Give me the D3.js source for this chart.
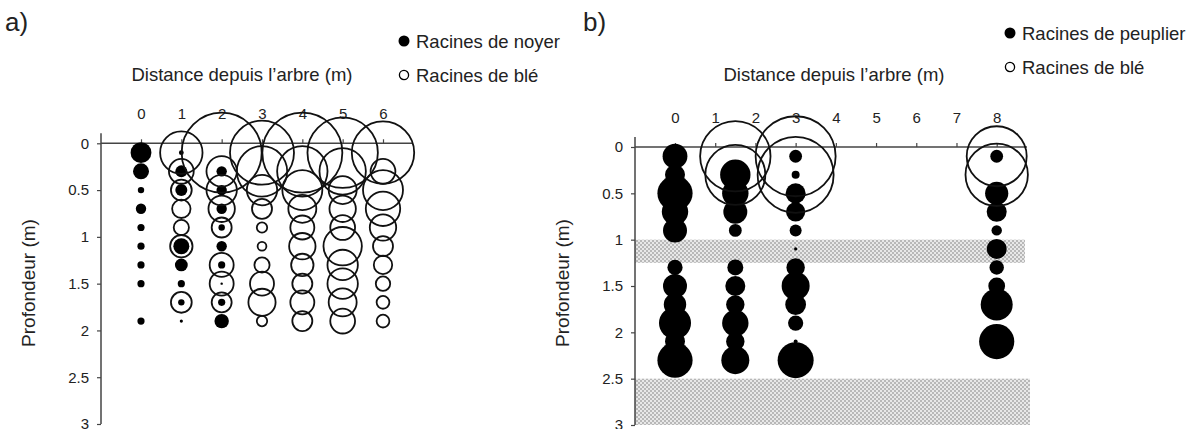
<!DOCTYPE html>
<html>
<head>
<meta charset="utf-8">
<script src="https://cdn.jsdelivr.net/npm/d3@7"></script>
<style>
  body { margin: 0; background: #fff; }
  svg { display: block; font-family: "Liberation Sans", Arial, sans-serif; }
</style>
</head>
<body>
<svg id="chart" width="1199" height="429"></svg>
<script>
// depths (m) of the sampling points
var depthsA = [0.1, 0.3, 0.5, 0.7, 0.9, 1.1, 1.3, 1.5, 1.7, 1.9]
var depthsB = [0.1, 0.3, 0.5, 0.7, 0.9, 1.1, 1.3, 1.5, 1.7, 1.9, 2.1, 2.3]

// distances from the tree (m)
var columnsA = [0, 1, 2, 3, 4, 5, 6]
var columnsB = [0, 1.5, 3, 8]

// relative root density (0-100), one row per column
var noyerA = [
  [26, 20, 8, 13, 9, 9, 9, 9, 0, 9],
  [6, 15, 15, 0, 0, 20, 16, 9, 8, 4],
  [0, 13, 13, 13, 8, 13, 9, 3, 9, 18],
  [0, 0, 0, 0, 0, 0, 0, 0, 0, 0],
  [0, 0, 0, 0, 0, 0, 0, 0, 0, 0],
  [0, 0, 0, 0, 0, 0, 0, 0, 0, 0],
  [0, 0, 0, 0, 0, 0, 0, 0, 0, 0]
]
var bleA = [
  [0, 0, 0, 0, 0, 0, 0, 0, 0, 0],
  [53, 31, 26, 23, 19, 28, 0, 0, 26, 0],
  [100, 38, 38, 33, 25, 0, 30, 30, 25, 0],
  [80, 63, 38, 25, 13, 11, 19, 30, 34, 13],
  [100, 63, 50, 35, 30, 33, 28, 25, 30, 25],
  [88, 58, 35, 33, 31, 48, 38, 38, 35, 31],
  [78, 31, 50, 43, 33, 25, 23, 18, 16, 16]
]
var peuplierB = [
  [31, 25, 44, 33, 30, 0, 19, 30, 28, 40, 25, 44],
  [0, 38, 33, 30, 16, 0, 20, 25, 23, 33, 23, 35],
  [16, 10, 25, 24, 15, 4, 23, 35, 26, 19, 5, 45],
  [16, 0, 29, 25, 13, 25, 18, 21, 40, 0, 44, 0]
]
var bleB = [
  [0, 0, 0, 0, 0, 0, 0, 0, 0, 0, 0, 0],
  [88, 75, 0, 0, 0, 0, 0, 0, 0, 0, 0, 0],
  [100, 95, 0, 0, 0, 0, 0, 0, 0, 0, 0, 0],
  [75, 78, 0, 0, 0, 0, 0, 0, 0, 0, 0, 0]
]

// shaded soil layers in b) (depth from, depth to)
var bandsB = [[1.0, 1.25], [2.5, 3.0]]

var ticksY = [0, 0.5, 1, 1.5, 2, 2.5, 3]
var ticksXA = [0, 1, 2, 3, 4, 5, 6]
var ticksXB = [0, 1, 2, 3, 4, 5, 6, 7, 8]

var svg = d3.select('#chart')
var size = d3.scaleLinear().domain([0, 100]).range([0, 40])
var axisColor = '#444'
var textColor = '#222'
var font = '"Liberation Sans", Arial, sans-serif'

// dotted pattern for the shaded layers
var defs = svg.append('defs')
var pat = defs.append('pattern')
  .attr('id', 'dots')
  .attr('width', 4).attr('height', 4)
  .attr('patternUnits', 'userSpaceOnUse')
pat.append('rect').attr('width', 4).attr('height', 4).attr('fill', '#e8e8e8')
pat.append('circle').attr('cx', 1).attr('cy', 1).attr('r', 1).attr('fill', '#a8a8a8')
pat.append('circle').attr('cx', 3).attr('cy', 3).attr('r', 1).attr('fill', '#a8a8a8')

function drawPanel(opt) {
  var g = svg.append('g')
  var x = d3.scaleLinear().domain(opt.xDomain).range(opt.xRange)
  var y = d3.scaleLinear().domain([0, 3]).range(opt.yRange)

  if (opt.bands) {
    g.selectAll('rect.band')
      .data(opt.bands)
      .enter().append('rect')
      .attr('class', 'band')
      .attr('x', opt.axisX)
      .attr('y', function (d) { return y(d[0]) })
      .attr('width', function (d, i) { return opt.bandRight[i] - opt.axisX })
      .attr('height', function (d) { return y(d[1]) - y(d[0]) })
      .attr('fill', 'url(#dots)')
  }

  // x axis (top)
  var xa = g.append('g')
    .attr('transform', 'translate(0,' + y(0) + ')')
    .call(d3.axisTop(x).tickValues(opt.xTicks).tickSize(4).tickPadding(20).tickFormat(d3.format('d')))
  xa.select('.domain').remove()
  xa.selectAll('line').attr('stroke', axisColor).attr('stroke-width', 1.2)
  xa.selectAll('text').attr('font-size', 15).attr('fill', textColor).attr('font-family', font)
  g.append('line')
    .attr('x1', opt.axisX).attr('x2', opt.xLineEnd)
    .attr('y1', y(0)).attr('y2', y(0))
    .attr('stroke', axisColor).attr('stroke-width', 1.5)

  // y axis (left)
  var ya = g.append('g')
    .attr('transform', 'translate(' + opt.axisX + ',0)')
    .call(d3.axisLeft(y).tickValues(ticksY).tickSize(4).tickPadding(8).tickFormat(function (d) { return d }))
  ya.select('.domain').remove()
  ya.selectAll('line').attr('stroke', axisColor).attr('stroke-width', 1.2)
  ya.selectAll('text').attr('font-size', 15).attr('fill', textColor).attr('font-family', font)
  g.append('line')
    .attr('x1', opt.axisX).attr('x2', opt.axisX)
    .attr('y1', y(0) - 10).attr('y2', y(3))
    .attr('stroke', axisColor).attr('stroke-width', 1.5)

  // tree roots: filled circles
  opt.columns.forEach(function (c, ci) {
    g.selectAll(null)
      .data(opt.depths.map(function (d, i) { return { d: d, v: opt.tree[ci][i] } }).filter(function (p) { return p.v > 0 }))
      .enter().append('circle')
      .attr('cx', x(c))
      .attr('cy', function (p) { return y(p.d) })
      .attr('r', function (p) { return size(p.v) })
      .attr('fill', '#000')
  })
  // wheat roots: open circles
  opt.columns.forEach(function (c, ci) {
    g.selectAll(null)
      .data(opt.depths.map(function (d, i) { return { d: d, v: opt.wheat[ci][i] } }).filter(function (p) { return p.v > 0 }))
      .enter().append('circle')
      .attr('cx', x(c))
      .attr('cy', function (p) { return y(p.d) })
      .attr('r', function (p) { return size(p.v) })
      .attr('fill', 'none')
      .attr('stroke', '#111')
      .attr('stroke-width', 1.8)
  })

  // titles
  g.append('text')
    .attr('x', opt.letterX).attr('y', 31)
    .attr('font-size', 26).attr('fill', textColor)
    .text(opt.letter)
  g.append('text')
    .attr('x', opt.titleX).attr('y', 81)
    .attr('text-anchor', 'middle')
    .attr('font-size', 18.5).attr('fill', textColor)
    .text('Distance depuis l\u2019arbre (m)')
  g.append('text')
    .attr('transform', 'translate(' + opt.yTitleX + ',283) rotate(-90)')
    .attr('text-anchor', 'middle')
    .attr('font-size', 19).attr('fill', textColor)
    .text('Profondeur (m)')

  // legend
  var lg = g.append('g').attr('transform', 'translate(' + opt.legendX + ',' + opt.legendY + ')')
  lg.append('circle').attr('cx', 0).attr('cy', 0).attr('r', 5.5).attr('fill', '#000')
  lg.append('text').attr('x', 12).attr('y', 6.5).attr('font-size', 18.5).attr('fill', textColor).text(opt.treeName)
  lg.append('circle').attr('cx', 0).attr('cy', opt.legendGap).attr('r', 4.6)
    .attr('fill', 'none').attr('stroke', '#000').attr('stroke-width', 1.3)
  lg.append('text').attr('x', 12).attr('y', opt.legendGap + 6.5).attr('font-size', 18.5).attr('fill', textColor).text('Racines de bl\u00e9')
}

drawPanel({
  xDomain: [0, 6], xRange: [141, 383], yRange: [143.3, 424],
  axisX: 101, xLineEnd: 413, xTicks: ticksXA,
  columns: columnsA, depths: depthsA, tree: noyerA, wheat: bleA,
  letter: 'a)', letterX: 5, titleX: 242, yTitleX: 35,
  legendX: 404, legendY: 41, legendGap: 34, treeName: 'Racines de noyer'
})

drawPanel({
  xDomain: [0, 8], xRange: [675, 996.7], yRange: [147, 425],
  axisX: 635, xLineEnd: 1027, xTicks: ticksXB,
  columns: columnsB, depths: depthsB, tree: peuplierB, wheat: bleB,
  bands: bandsB, bandRight: [1025, 1030],
  letter: 'b)', letterX: 583, titleX: 834, yTitleX: 569,
  legendX: 1010, legendY: 33, legendGap: 34, treeName: 'Racines de peuplier'
})
</script>
</body>
</html>
